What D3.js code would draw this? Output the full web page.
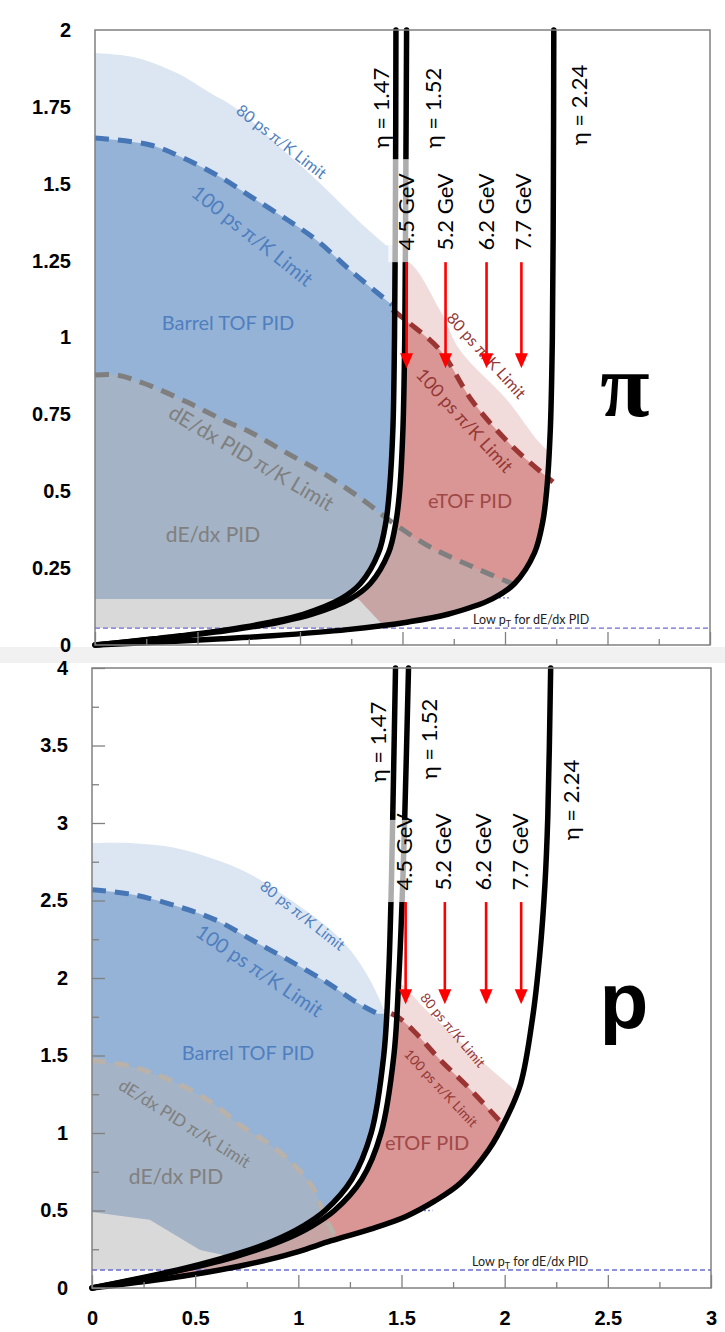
<!DOCTYPE html>
<html>
<head>
<meta charset="utf-8">
<script src="https://cdn.jsdelivr.net/npm/d3@7"></script>
<style>
  body { margin: 0; background: #fff; }
  svg { display: block; }
</style>
</head>
<body>
<svg id="chart" width="725" height="1332"></svg>
<script>
// ---------------- data ----------------
// x axis: rapidity-like coordinate, y axis: pT (GeV/c)
const xTickVals = [0, 0.5, 1, 1.5, 2, 2.5, 3];
const xMinorTicks = [0.25, 0.75, 1.25, 1.75, 2.25, 2.75];
const piYTicks = [0, 0.25, 0.5, 0.75, 1, 1.25, 1.5, 1.75, 2];
const pYTicks = [0, 0.5, 1, 1.5, 2, 2.5, 3, 3.5, 4];
const pYMinor = [0.25, 0.75, 1.25, 1.75, 2.25, 2.75, 3.25, 3.75];

const etaLabels = ["η = 1.47", "η = 1.52", "η = 2.24"];
const beamEnergies = ["4.5 GeV", "5.2 GeV", "6.2 GeV", "7.7 GeV"];
const arrowX = [1.52, 1.71, 1.91, 2.08];

// pion panel: constant-eta lines
const piEta147 = [[0,0],[0.147,0.01],[0.288,0.02],[0.42,0.03],[0.648,0.05],[0.863,0.075],[1.016,0.1],[1.199,0.15],[1.295,0.2],[1.383,0.3],[1.419,0.4],[1.436,0.5],[1.453,0.7],[1.461,1.0],[1.466,1.5],[1.468,2.0]];
const piEta152 = [[0,0],[0.155,0.01],[0.304,0.02],[0.443,0.03],[0.68,0.05],[0.903,0.075],[1.059,0.1],[1.246,0.15],[1.343,0.2],[1.432,0.3],[1.468,0.4],[1.486,0.5],[1.502,0.7],[1.511,1.0],[1.516,1.5],[1.52,2.0]];
const piEta224 = [[0,0],[0.326,0.01],[0.618,0.02],[0.864,0.03],[1.231,0.05],[1.529,0.075],[1.721,0.1],[1.938,0.15],[2.047,0.2],[2.144,0.3],[2.184,0.4],[2.203,0.5],[2.221,0.7],[2.231,1.0],[2.236,1.5],[2.238,2.0]];
// pion panel: PID limits
const piTof80 = [[0,1.925],[0.2,1.91],[0.4,1.86],[0.55,1.8],[0.7,1.74],[0.9,1.62],[1.1,1.5],[1.3,1.37],[1.42,1.3]];
const piTof100 = [[0,1.649],[0.27,1.626],[0.43,1.584],[0.61,1.522],[0.77,1.454],[0.94,1.382],[1.08,1.317],[1.26,1.21],[1.45,1.106]];
const piTofLow = [[0,0.15],[1.9,0.15]];
const piEtof80 = [[1.45,1.245],[1.53,1.245],[1.683,1.089],[1.78,0.959],[2.01,0.797],[2.17,0.657],[2.3,0.58]];
const piEtof100 = [[1.45,1.09],[1.527,1.05],[1.683,0.959],[1.844,0.79],[2.039,0.644],[2.234,0.53]];
const piEtofLow = [[1.2,0.18],[1.29,0.146],[1.39,0.075],[1.46,0.03]];
const piDedx = [[0,0.878],[0.107,0.878],[0.234,0.852],[0.449,0.79],[0.624,0.732],[0.756,0.693],[0.937,0.624],[1.112,0.559],[1.307,0.472],[1.454,0.397],[1.634,0.319],[1.844,0.254],[2.05,0.195]];
const piDedxLowPt = 0.055;
const piDottedPt = 0.153;

// proton panel: constant-eta lines
const pEta147 = [[0,0],[0.185,0.05],[0.36,0.1],[0.518,0.15],[0.718,0.226],[0.872,0.3],[1.023,0.4],[1.13,0.5],[1.259,0.7],[1.353,1.0],[1.414,1.5],[1.437,2.0],[1.449,2.5],[1.457,3.0],[1.471,4.0]];
const pEta152 = [[0,0],[0.196,0.05],[0.38,0.1],[0.545,0.15],[0.688,0.2],[0.911,0.3],[1.066,0.4],[1.175,0.5],[1.307,0.7],[1.401,1.0],[1.463,1.5],[1.487,2.0],[1.503,2.5],[1.515,3.0],[1.534,4.0]];
const pEta224 = [[0,0],[0.3,0.05],[0.55,0.1],[0.718,0.142],[0.86,0.185],[1.0,0.235],[1.16,0.305],[1.35,0.38],[1.519,0.46],[1.66,0.56],[1.786,0.677],[1.922,0.89],[2.01,1.1],[2.078,1.32],[2.136,1.75],[2.17,2.15],[2.195,2.6],[2.209,3.04],[2.223,4.0]];
// proton panel: PID limits
const pTof80 = [[0,2.87],[0.2,2.87],[0.4,2.84],[0.607,2.76],[0.767,2.67],[1.0,2.47],[1.15,2.32],[1.252,2.18],[1.35,1.98],[1.413,1.8]];
const pTof100 = [[0,2.57],[0.19,2.54],[0.42,2.46],[0.607,2.37],[0.782,2.24],[0.947,2.12],[1.14,1.97],[1.286,1.84],[1.383,1.77]];
const pTofLow = [[0,0.49],[0.28,0.44],[0.524,0.245],[0.684,0.2],[1.0,0.15]];
const pEtof80 = [[1.44,1.98],[1.5,1.96],[1.6,1.82],[1.75,1.63],[1.9,1.45],[2.03,1.3],[2.2,1.1]];
const pEtof100 = [[1.45,1.77],[1.481,1.75],[1.558,1.66],[1.689,1.47],[1.82,1.3],[1.981,1.07]];
const pEtofLow = [[0,0],[2.6,0]];
const pDedx = [[0,1.47],[0.199,1.426],[0.413,1.32],[0.587,1.19],[0.718,1.05],[0.879,0.91],[1.044,0.7],[1.092,0.59],[1.121,0.48],[1.17,0.355],[1.19,0.31]];
const pDedxLowPt = 0.116;
const pDottedPt = 0.5;

// ---------------- drawing ----------------
const FONT = "Lato, 'Noto Sans', 'DejaVu Sans', sans-serif";
const AXFONT = "'Liberation Sans', Arial, sans-serif";
const svg = d3.select("#chart");

svg.append("rect").attr("width", 725).attr("height", 1332).attr("fill", "#fff");
svg.append("rect").attr("x", 0).attr("y", 647).attr("width", 725).attr("height", 16).attr("fill", "#f1f1f1");

function label(g, s, px, py, o = {}) {
  const t = g.append("text")
    .attr("transform", `translate(${px},${py}) rotate(${o.rot || 0})`)
    .attr("text-anchor", o.anchor || "middle")
    .attr("dominant-baseline", o.baseline || "central")
    .attr("font-family", o.font || FONT)
    .attr("font-size", o.size || 20)
    .attr("fill", o.color || "#000")
    .text(s);
  if (o.weight) t.attr("font-weight", o.weight);
  return t;
}

function drawPanel(c) {
  const g = svg.append("g");
  const x = d3.scaleLinear().domain([0, 3]).range([c.left, c.right]);
  const y = d3.scaleLinear().domain([0, c.yMax]).range([c.bottom, c.top]);
  const smooth = d3.line().x(d => x(d[0])).y(d => y(d[1])).curve(d3.curveCatmullRom.alpha(0.5));
  const pts = a => a.map(d => `L${x(d[0])},${y(d[1])}`).join("");
  const rev = a => smooth(a.slice().reverse()).replace(/^M/, "L");
  const last = a => a[a.length - 1];
  const [e147, e152, e224] = c.eta;

  const defs = g.append("defs");
  const clip = (name, d) => defs.append("clipPath").attr("id", `${c.id}-${name}`).append("path").attr("d", d);
  clip("l147", smooth(e147) + pts([[0, c.yMax]]) + "Z");
  clip("mid", smooth(e152) + rev(e224) + "Z");
  clip("l224", smooth(e224) + pts([[0, c.yMax]]) + "Z");

  // dotted TOF low-pT line
  g.append("line")
    .attr("x1", x(0)).attr("x2", x(c.dottedEnd))
    .attr("y1", y(c.dottedPt)).attr("y2", y(c.dottedPt))
    .attr("stroke", "#7b7bd6").attr("stroke-width", 1.3).attr("stroke-dasharray", "2,2");

  const area = (b, extra, clipName, fill, op) => g.append("path")
    .attr("d", smooth(b) + pts(extra) + "Z")
    .attr("fill", fill).attr("fill-opacity", op)
    .attr("clip-path", `url(#${c.id}-${clipName})`);

  const tofExtra = b => [[last(b)[0] + 0.4, last(b)[1]], [last(b)[0] + 0.4, 0], ...c.tofLow.slice().reverse()];
  area(c.tof80, tofExtra(c.tof80), "l147", "#dce6f2", 1);
  area(c.tof100, tofExtra(c.tof100), "l147", "#95b3d7", 1);

  const etofExtra = b => [[2.6, last(b)[1]], [2.6, 0], ...c.etofLow.slice().reverse()];
  area(c.etof80, etofExtra(c.etof80), "mid", "#f2dcdb", 1);
  area(c.etof100, etofExtra(c.etof100), "mid", "#d99694", 1);

  const dd = c.dedx;
  area(dd, [[2.6, last(dd)[1]], [2.6, c.dedxLowPt], [0, c.dedxLowPt]], "l224", "#b4b4b4", 0.5);

  // white gap between eta = 1.47 and eta = 1.52
  g.append("path").attr("d", smooth(e147) + rev(e152) + "Z").attr("fill", "#fff");

  // low pT dE/dx line
  g.append("line")
    .attr("x1", x(0)).attr("x2", x(3))
    .attr("y1", y(c.dedxLowPt)).attr("y2", y(c.dedxLowPt))
    .attr("stroke", "#6b6bd0").attr("stroke-width", 1.3).attr("stroke-dasharray", "5,3");

  // dashed limit lines
  const dashed = (b, color) => g.append("path").attr("d", smooth(b))
    .attr("fill", "none").attr("stroke", color).attr("stroke-width", 5)
    .attr("stroke-dasharray", "14,9");
  dashed(c.tof100, "#4676b6");
  dashed(c.dedx, c.dedxColor);
  dashed(c.etof100, "#9b3534");

  // region labels
  c.labels.forEach(l => label(g, l.t, l.x, l.y, l));

  const low = g.append("text")
    .attr("x", c.lowLabel[0]).attr("y", c.lowLabel[1])
    .attr("font-family", FONT).attr("font-size", 12.5).attr("fill", "#222");
  low.append("tspan").text("Low p");
  low.append("tspan").attr("font-size", 9).attr("dy", 3).text("T");
  low.append("tspan").attr("dy", -3).text(" for dE/dx PID");

  // constant-eta lines
  [e147, e152, e224].forEach(e => g.append("path").attr("d", smooth(e))
    .attr("fill", "none").attr("stroke", "#000").attr("stroke-width", 5.5)
    .attr("stroke-linecap", "round"));

  // translucent label box over the eta lines
  g.append("rect")
    .attr("x", x(1.43)).attr("y", y(c.box[1]))
    .attr("width", x(1.556) - x(1.43)).attr("height", y(c.box[0]) - y(c.box[1]))
    .attr("fill", "#fff").attr("fill-opacity", 0.68);

  etaLabels.forEach((s, i) => label(g, s, c.etaPos[i][0], c.etaPos[i][1], { rot: -90, size: 22, color: "#000" }));
  beamEnergies.forEach((s, i) => label(g, s, c.gevX[i], c.gevY, { rot: -90, size: 22, color: "#000" }));

  // red arrows
  arrowX.forEach(ax => {
    const px = x(ax), y0 = y(c.arrow[0]), y1 = y(c.arrow[1]);
    g.append("line").attr("x1", px).attr("x2", px).attr("y1", y0).attr("y2", y1 - 12)
      .attr("stroke", "#f00").attr("stroke-width", 2.6);
    g.append("path").attr("d", `M${px - 6.5},${y1 - 15}L${px + 6.5},${y1 - 15}L${px},${y1}Z`).attr("fill", "#f00");
  });

  // frame and axes
  g.append("rect").attr("x", c.left).attr("y", c.top)
    .attr("width", c.right - c.left).attr("height", c.bottom - c.top)
    .attr("fill", "none").attr("stroke", "#808080").attr("stroke-width", 1.5);

  const styleAxis = a => {
    a.select(".domain").remove();
    a.selectAll(".tick line").attr("stroke", "#808080").attr("stroke-width", 1.3);
    a.selectAll("text").attr("font-family", AXFONT).attr("font-size", 20)
      .attr("font-weight", "bold").attr("fill", "#000");
  };
  g.append("g").attr("transform", `translate(0,${c.bottom})`)
    .call(d3.axisBottom(x).tickValues(xTickVals).tickSizeInner(-13).tickSizeOuter(0).tickPadding(23)
      .tickFormat(d => c.xLabels ? String(d) : ""))
    .call(styleAxis);
  g.append("g").attr("transform", `translate(0,${c.bottom})`)
    .call(d3.axisBottom(x).tickValues(xMinorTicks).tickSize(-6).tickFormat(() => ""))
    .call(styleAxis);
  g.append("g").attr("transform", `translate(${c.left},0)`)
    .call(d3.axisLeft(y).tickValues(c.yTicks).tickSizeInner(c.yTickSize).tickSizeOuter(0).tickPadding(24)
      .tickFormat(d => String(d)))
    .call(styleAxis);
  if (c.yMinor.length) {
    g.append("g").attr("transform", `translate(${c.left},0)`)
      .call(d3.axisLeft(y).tickValues(c.yMinor).tickSize(-7).tickFormat(() => ""))
      .call(styleAxis);
  }

  // particle symbol
  label(g, c.symbol, c.symbolPos[0], c.symbolPos[1], {
    font: c.symbolFont, size: c.symbolSize, weight: "bold", baseline: "alphabetic"
  });
}

drawPanel({
  id: "pi", left: 95, right: 710, top: 30, bottom: 645, yMax: 2,
  yTicks: piYTicks, yMinor: [], yTickSize: 0, xLabels: false,
  eta: [piEta147, piEta152, piEta224],
  tof80: piTof80, tof100: piTof100, tofLow: piTofLow,
  etof80: piEtof80, etof100: piEtof100, etofLow: piEtofLow,
  dedx: piDedx, dedxLowPt: piDedxLowPt, dedxColor: "#7f7f7f",
  dottedPt: piDottedPt, dottedEnd: 2.02,
  box: [1.245, 1.58], arrow: [1.245, 0.9],
  etaPos: [[380, 108], [432, 108], [578, 105]],
  gevX: [405, 444, 485, 522], gevY: 212,
  lowLabel: [473, 624],
  symbol: "π", symbolPos: [625, 416], symbolFont: "'Liberation Serif', 'DejaVu Serif', serif", symbolSize: 90,
  labels: [
    { t: "80 ps π/K Limit", x: 282, y: 141, rot: 38, size: 16, color: "#4f7fbf" },
    { t: "100 ps π/K Limit", x: 253, y: 235, rot: 38.5, size: 20, color: "#4f7fbf" },
    { t: "Barrel TOF PID", x: 228, y: 322, size: 20, color: "#4f7fbf" },
    { t: "dE/dx PID π/K Limit", x: 252, y: 457, rot: 30.5, size: 21, color: "#7f7f7f" },
    { t: "dE/dx PID", x: 213, y: 533, size: 21, color: "#808080" },
    { t: "80 ps π/K Limit", x: 487, y: 355, rot: 48, size: 16, color: "#953735" },
    { t: "100 ps π/K Limit", x: 465, y: 420, rot: 47.6, size: 18, color: "#953735" },
    { t: "eTOF PID", x: 470, y: 500, size: 20, color: "#a04848" }
  ]
});

drawPanel({
  id: "p", left: 92, right: 711, top: 668, bottom: 1288, yMax: 4,
  yTicks: pYTicks, yMinor: pYMinor, yTickSize: -13, xLabels: true,
  eta: [pEta147, pEta152, pEta224],
  tof80: pTof80, tof100: pTof100, tofLow: pTofLow,
  etof80: pEtof80, etof100: pEtof100, etofLow: pEtofLow,
  dedx: pDedx, dedxLowPt: pDedxLowPt, dedxColor: "#b8b2aa",
  dottedPt: pDottedPt, dottedEnd: 1.65,
  box: [2.49, 3.02], arrow: [2.49, 1.83],
  etaPos: [[377, 742], [428, 739], [570, 800]],
  gevX: [403, 442, 482, 519], gevY: 852,
  lowLabel: [472, 1266],
  symbol: "p", symbolPos: [624, 1028], symbolFont: AXFONT, symbolSize: 80,
  labels: [
    { t: "80 ps π/K Limit", x: 303, y: 915, rot: 38, size: 15, color: "#4f7fbf" },
    { t: "100 ps π/K Limit", x: 260, y: 970, rot: 34, size: 20, color: "#4f7fbf" },
    { t: "Barrel TOF PID", x: 248, y: 1052, size: 20, color: "#4f7fbf" },
    { t: "dE/dx PID π/K Limit", x: 185, y: 1123, rot: 32, size: 17, color: "#7f7f7f" },
    { t: "dE/dx PID", x: 176, y: 1175, size: 21, color: "#808080" },
    { t: "80 ps π/K Limit", x: 453, y: 1030, rot: 50, size: 13.5, color: "#953735" },
    { t: "100 ps π/K Limit", x: 441, y: 1088, rot: 47, size: 13.5, color: "#953735" },
    { t: "eTOF PID", x: 427, y: 1142, size: 20, color: "#a04848" }
  ]
});
</script>
</body>
</html>
